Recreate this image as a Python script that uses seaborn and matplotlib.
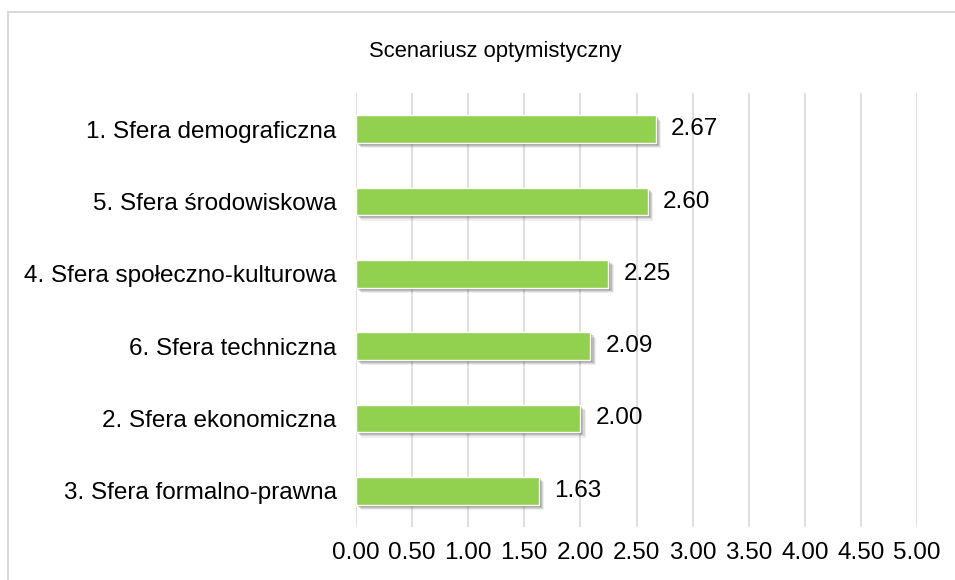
import pandas as pd
import seaborn as sns
import matplotlib.pyplot as plt
import matplotlib.patheffects as pe
from matplotlib.patches import Rectangle

categories = ["1. Sfera demograficzna", "5. Sfera środowiskowa", "4. Sfera społeczno-kulturowa",
              "6. Sfera techniczna", "2. Sfera ekonomiczna", "3. Sfera formalno-prawna"]
values = [2.67, 2.60, 2.25, 2.09, 2.00, 1.63]
xticks = [0, 0.5, 1, 1.5, 2, 2.5, 3, 3.5, 4, 4.5, 5]

df = pd.DataFrame({"sfera": categories, "wynik": values})

sns.set_style("white")
plt.rcParams['font.family'] = ['Liberation Sans', 'DejaVu Sans']
plt.rcParams['text.color'] = 'black'

fig = plt.figure(figsize=(9.55, 5.8), dpi=100)
ax = fig.add_axes([356/955, 1 - 527/580, (917 - 356)/955, (527 - 93)/580])

# chart frame like excel
fig.patches.append(Rectangle((8/955, -0.1), 1.2, 1 - 12/580 + 0.1, transform=fig.transFigure,
                             fill=False, edgecolor='#D9D9D9', linewidth=1.5))

sns.barplot(data=df, x="wynik", y="sfera", orient="h", color="#92D050", width=0.38,
            saturation=1, ax=ax, zorder=3)

# soft shadow, a few layers
shadow = [pe.SimplePatchShadow(offset=(o, -o), shadow_rgbFace='#3a3a3a', alpha=a)
          for o, a in [(3.8, 0.08), (3.0, 0.13), (2.2, 0.18), (1.4, 0.22)]]
for p in ax.patches:
    p.set_path_effects(shadow + [pe.Normal()])

ax.bar_label(ax.containers[0], labels=[f"{v:.2f}" for v in values], padding=11,
             fontsize=17.5, color='black')

ax.set_xlim(0, 5)
ax.set_xticks(xticks)
ax.set_xticklabels([f"{t:.2f}" for t in xticks])
ax.grid(axis='x', color='#D9D9D9', linewidth=1.2, zorder=0)
ax.set_axisbelow(True)
for s in ax.spines.values():
    s.set_visible(False)
ax.tick_params(axis='both', length=0, labelsize=17.5, labelcolor='black')
ax.tick_params(axis='y', pad=14)
ax.tick_params(axis='x', pad=11)
ax.set_xlabel("")
ax.set_ylabel("")

fig.text(495/955, 1 - 51/580, "Scenariusz optymistyczny", ha='center', va='center',
         fontsize=15.8, color='black')

fig.savefig("out.png", dpi=100)
